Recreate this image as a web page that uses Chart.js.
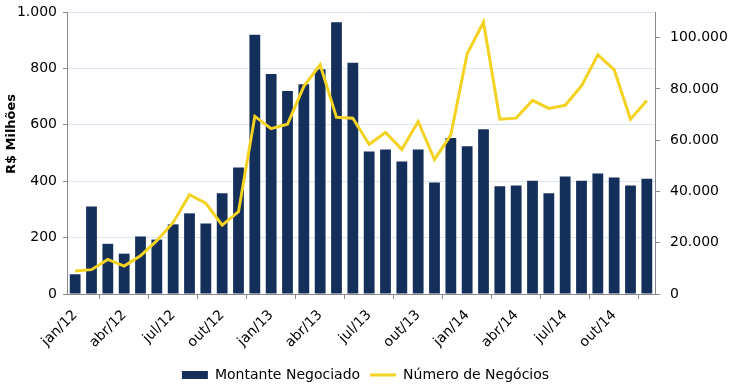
<!DOCTYPE html>
<html>
<head>
<meta charset="utf-8">
<script src="https://cdn.jsdelivr.net/npm/chart.js@4"></script>
<style>
  html, body { margin: 0; padding: 0; background: #fff; }
  #wrap { width: 731px; height: 386px; }
</style>
</head>
<body>
<div id="wrap"><canvas id="negociosChart" width="731" height="386"></canvas></div>
<script>
  const meses = [
    'jan/12','fev/12','mar/12','abr/12','mai/12','jun/12','jul/12','ago/12','set/12','out/12','nov/12','dez/12',
    'jan/13','fev/13','mar/13','abr/13','mai/13','jun/13','jul/13','ago/13','set/13','out/13','nov/13','dez/13',
    'jan/14','fev/14','mar/14','abr/14','mai/14','jun/14','jul/14','ago/14','set/14','out/14','nov/14','dez/14'
  ];
  // R$ milhoes
  const montante = [
    70, 310, 178, 143, 204, 193, 247, 286, 250, 357, 449, 919,
    780, 720, 744, 797, 964, 820, 505, 512, 470, 512, 395, 553,
    524, 584, 382, 385, 402, 357, 417, 402, 427, 413, 385, 409
  ];
  const numNegocios = [
    9000, 9500, 13500, 10900, 14900, 20800, 27900, 38700, 35400, 26900, 32100, 69300,
    64500, 66200, 81000, 89400, 68900, 68600, 58400, 63000, 56400, 67300, 52400, 62100,
    93700, 106000, 68200, 68600, 75500, 72400, 73600, 81200, 93300, 87500, 68200, 75500
  ];
  const ticksEsq = [0, 200, 400, 600, 800, 1000];
  const ticksDir = [0, 20000, 40000, 60000, 80000, 100000];

  const fmt = v => String(v).replace(/\B(?=(\d{3})+(?!\d))/g, '.');
  const fonte = { family: 'DejaVu Sans', size: 14 };

  // titulo do eixo esquerdo (fica um pouco acima do centro, como no original)
  const tituloEixo = {
    id: 'tituloEixo',
    afterDraw(chart) {
      const ctx = chart.ctx;
      ctx.save();
      ctx.translate(12, 134);
      ctx.rotate(-Math.PI / 2);
      ctx.font = 'bold 13px "DejaVu Sans"';
      ctx.fillStyle = '#000';
      ctx.textAlign = 'center';
      ctx.textBaseline = 'middle';
      ctx.fillText('R$ Milhões', 0, 0);
      ctx.restore();
    }
  };

  const semPadding = (s, w) => { s.width = w; s.paddingTop = 0; s.paddingBottom = 0; };

  new Chart(document.getElementById('negociosChart'), {
    type: 'bar',
    data: {
      labels: meses,
      datasets: [{
        label: 'Montante Negociado',
        data: montante,
        backgroundColor: '#14305a',
        borderWidth: 0,
        categoryPercentage: 1,
        barPercentage: 0.66,
        yAxisID: 'y',
        order: 1,
        pointStyle: 'rect'
      }, {
        type: 'line',
        label: 'Número de Negócios',
        data: numNegocios,
        borderColor: '#f3d221',
        backgroundColor: '#f3d221',
        borderWidth: 3,
        pointRadius: 0,
        tension: 0,
        yAxisID: 'y1',
        order: 0,
        pointStyle: 'line'
      }]
    },
    plugins: [tituloEixo],
    options: {
      responsive: false,
      animation: false,
      layout: { padding: { top: 12, left: 0, right: 0, bottom: -6 } },
      plugins: {
        tooltip: { enabled: false },
        legend: {
          position: 'bottom',
          labels: {
            usePointStyle: true,
            pointStyleWidth: 26,
            boxHeight: 8,
            color: '#000',
            font: fonte,
            padding: 10,
            sort: (a, b) => a.datasetIndex - b.datasetIndex
          }
        }
      },
      scales: {
        x: {
          offset: true,
          grid: { offset: true, drawOnChartArea: false, tickLength: 5, color: '#888' },
          border: { color: '#888' },
          ticks: {
            autoSkip: false,
            maxRotation: 45,
            minRotation: 45,
            color: '#000',
            font: fonte,
            padding: 8,
            callback: function (v, i) { return i % 3 === 0 ? meses[i] : null; }
          },
          afterFit: s => { s.height = 64; }
        },
        y: {
          position: 'left',
          min: 0,
          max: 1000,
          afterBuildTicks: s => { s.ticks = ticksEsq.map(v => ({ value: v })); },
          ticks: { color: '#000', font: fonte, padding: 6, callback: v => fmt(v) },
          grid: { color: '#dce6f2', tickColor: '#888', tickLength: 4 },
          border: { color: '#888' },
          afterFit: s => semPadding(s, 67)
        },
        y1: {
          position: 'right',
          min: 0,
          max: 110000,
          afterBuildTicks: s => { s.ticks = ticksDir.map(v => ({ value: v })); },
          ticks: { color: '#000', font: fonte, padding: 10, callback: v => fmt(v) },
          grid: { drawOnChartArea: false, color: '#888', tickLength: 5 },
          border: { color: '#888' },
          afterFit: s => semPadding(s, 76)
        }
      }
    }
  });
</script>
</body>
</html>
